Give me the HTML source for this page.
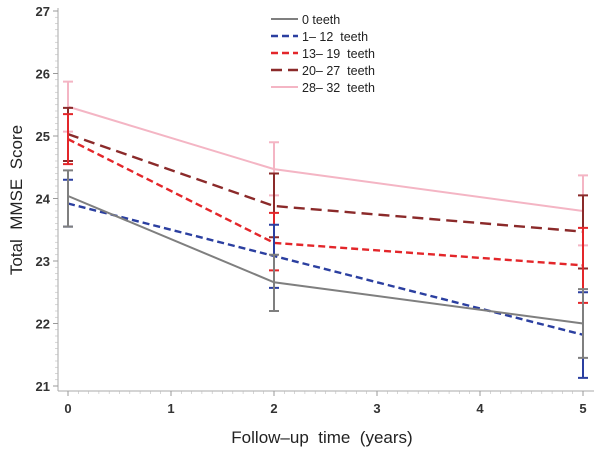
<!DOCTYPE html>
<html><head><meta charset="utf-8"><style>body{margin:0;background:#fff}svg{display:block;font-family:"Liberation Sans",sans-serif}text{white-space:pre}</style></head>
<body>
<svg id="c" width="600" height="451"></svg>
<script>
const times=[0,2,5];
const seriesNames=["0 teeth","1\u2013 12  teeth","13\u2013 19  teeth","20\u2013 27  teeth","28\u2013 32  teeth"];
const s0=[24.04,22.66,22.0];
const s1=[23.92,23.08,21.82];
const s2=[24.95,23.29,22.93];
const s3=[25.03,23.88,23.47];
const s4=[25.47,24.47,23.8];
const lo0=[23.55,22.2,21.45], hi0=[24.45,23.1,22.55];
const lo1=[23.55,22.57,21.13], hi1=[24.3,23.58,22.5];
const lo2=[24.55,22.85,22.33], hi2=[25.35,23.77,23.53];
const lo3=[24.6,23.38,22.88], hi3=[25.45,24.4,24.05];
const lo4=[25.07,24.05,23.25], hi4=[25.87,24.9,24.37];
const yTicks=[21,22,23,24,25,26,27];
const xTicks=[0,1,2,3,4,5];
const colors=["#7f7f7f","#2b3fa0","#e3262a","#8b2a2a","#f4b5c4"];
const dashes=["","7,4","7,4","11,6",""];
const widths=[2,2.4,2.4,2.4,2];
const S=[s0,s1,s2,s3,s4],L=[lo0,lo1,lo2,lo3,lo4],H=[hi0,hi1,hi2,hi3,hi4];
const X=t=>68+t*103, Y=v=>386-(v-21)*62.5;
const svg=document.getElementById('c');const NS="http://www.w3.org/2000/svg";
function el(tag,a,p){const e=document.createElementNS(NS,tag);for(const k in a)e.setAttribute(k,a[k]);(p||svg).appendChild(e);return e;}
let e;
e=el('line',{x1:58,y1:8,x2:58,y2:391,stroke:'#aaa'});


e=el('line',{x1:58,y1:391,x2:594,y2:391,stroke:'#aaa'});


for(let v=21;v<=27.001;v+=0.1){el('line',{x1:55,x2:58,y1:Y(v),y2:Y(v),stroke:'#bbb','stroke-width':0.6});}
yTicks.forEach(v=>{el('line',{x1:53,x2:58,y1:Y(v),y2:Y(v),stroke:'#999'});
e=el('text',{x:50,y:Y(v)+5,'text-anchor':'end','font-size':13,'font-weight':'bold',fill:'#333'});e.textContent=v;

});
for(let t=0;t<=5.001;t+=0.1){el('line',{x1:X(t),x2:X(t),y1:391,y2:394,stroke:'#bbb','stroke-width':0.6});}
xTicks.forEach(t=>{el('line',{x1:X(t),x2:X(t),y1:391,y2:396,stroke:'#999'});
e=el('text',{x:X(t),y:413,'text-anchor':'middle','font-size':13,'font-weight':'bold',fill:'#333'});e.textContent=t;

});
e=el('text',{x:322,y:443,'text-anchor':'middle','font-size':17,fill:'#222'});e.textContent="Follow\u2013up  time  (years)";


e=el('text',{x:0,y:0,'text-anchor':'middle','font-size':17,fill:'#222',transform:'translate(22,200) rotate(-90)'});e.textContent="Total  MMSE  Score";


for(let i=4;i>=0;i--){
 const g=el('g',{});
 
 
 times.forEach((t,j)=>{const x=X(t);
  el('line',{x1:x,x2:x,y1:Y(L[i][j]),y2:Y(H[i][j]),stroke:colors[i],'stroke-width':2},g);
  el('line',{x1:x-5,x2:x+5,y1:Y(L[i][j]),y2:Y(L[i][j]),stroke:colors[i],'stroke-width':2},g);
  el('line',{x1:x-5,x2:x+5,y1:Y(H[i][j]),y2:Y(H[i][j]),stroke:colors[i],'stroke-width':2},g);});
 const p=el('polyline',{points:times.map((t,j)=>X(t)+','+Y(S[i][j])).join(' '),fill:'none',stroke:colors[i],'stroke-width':widths[i],'stroke-dasharray':dashes[i]},g);
 
 
}
seriesNames.forEach((n,i)=>{const y=19+i*17;
 const g=el('g',{});
 
 
 el('line',{x1:271,x2:298,y1:y,y2:y,stroke:colors[i],'stroke-width':widths[i],'stroke-dasharray':dashes[i]},g);
 const t=el('text',{x:302,y:y+5,'font-size':12.5,fill:'#222'},g);t.textContent=n;});
</script>
</body></html>
